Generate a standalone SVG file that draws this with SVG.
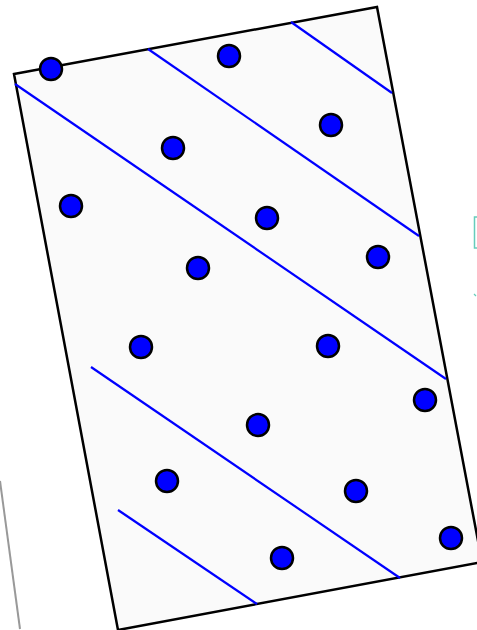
<svg xmlns="http://www.w3.org/2000/svg" width="477" height="630" viewBox="0 0 477 630">
<style>
.frame{fill:#fafafa;stroke:#000;stroke-width:2.5;stroke-linejoin:miter}
.line{stroke:#0000ff;stroke-width:2.2;fill:none}
.dot{fill:#0000ff;stroke:#000;stroke-width:2.5}
</style>
<rect width="477" height="630" fill="#fff"/>
<line x1="0" y1="481" x2="20" y2="629" stroke="#999" stroke-width="2"/>
<rect x="474.5" y="217" width="8" height="31" fill="none" stroke="#66ccbb" stroke-width="1.5"/>
<path d="M474,294 l2,2" stroke="#66ccbb" stroke-width="1.2"/>
<g id="frame"><polygon class="frame" points="14,74 377,7 482,562 118,630"/></g>
<g id="connectors">
<line class="line" x1="291" y1="22" x2="392" y2="93"/>
<line class="line" x1="148" y1="49" x2="419" y2="236"/>
<line class="line" x1="15" y1="84" x2="446" y2="379"/>
<line class="line" x1="91" y1="367" x2="400" y2="578"/>
<line class="line" x1="118" y1="510" x2="257" y2="604"/>
</g>
<g id="n1"><circle class="dot" cx="51" cy="69" r="11"/></g>
<g id="n2"><circle class="dot" cx="229" cy="56" r="11"/></g>
<g id="n3"><circle class="dot" cx="331" cy="125" r="11"/></g>
<g id="n4"><circle class="dot" cx="173" cy="148" r="11"/></g>
<g id="n5"><circle class="dot" cx="71" cy="206" r="11"/></g>
<g id="n6"><circle class="dot" cx="267" cy="218" r="11"/></g>
<g id="n7"><circle class="dot" cx="378" cy="257" r="11"/></g>
<g id="n8"><circle class="dot" cx="198" cy="268" r="11"/></g>
<g id="n9"><circle class="dot" cx="141" cy="347" r="11"/></g>
<g id="n10"><circle class="dot" cx="328" cy="346" r="11"/></g>
<g id="n11"><circle class="dot" cx="425" cy="400" r="11"/></g>
<g id="n12"><circle class="dot" cx="258" cy="425" r="11"/></g>
<g id="n13"><circle class="dot" cx="167" cy="481" r="11"/></g>
<g id="n14"><circle class="dot" cx="356" cy="491" r="11"/></g>
<g id="n15"><circle class="dot" cx="451" cy="538" r="11"/></g>
<g id="n16"><circle class="dot" cx="282" cy="558" r="11"/></g>
</svg>
